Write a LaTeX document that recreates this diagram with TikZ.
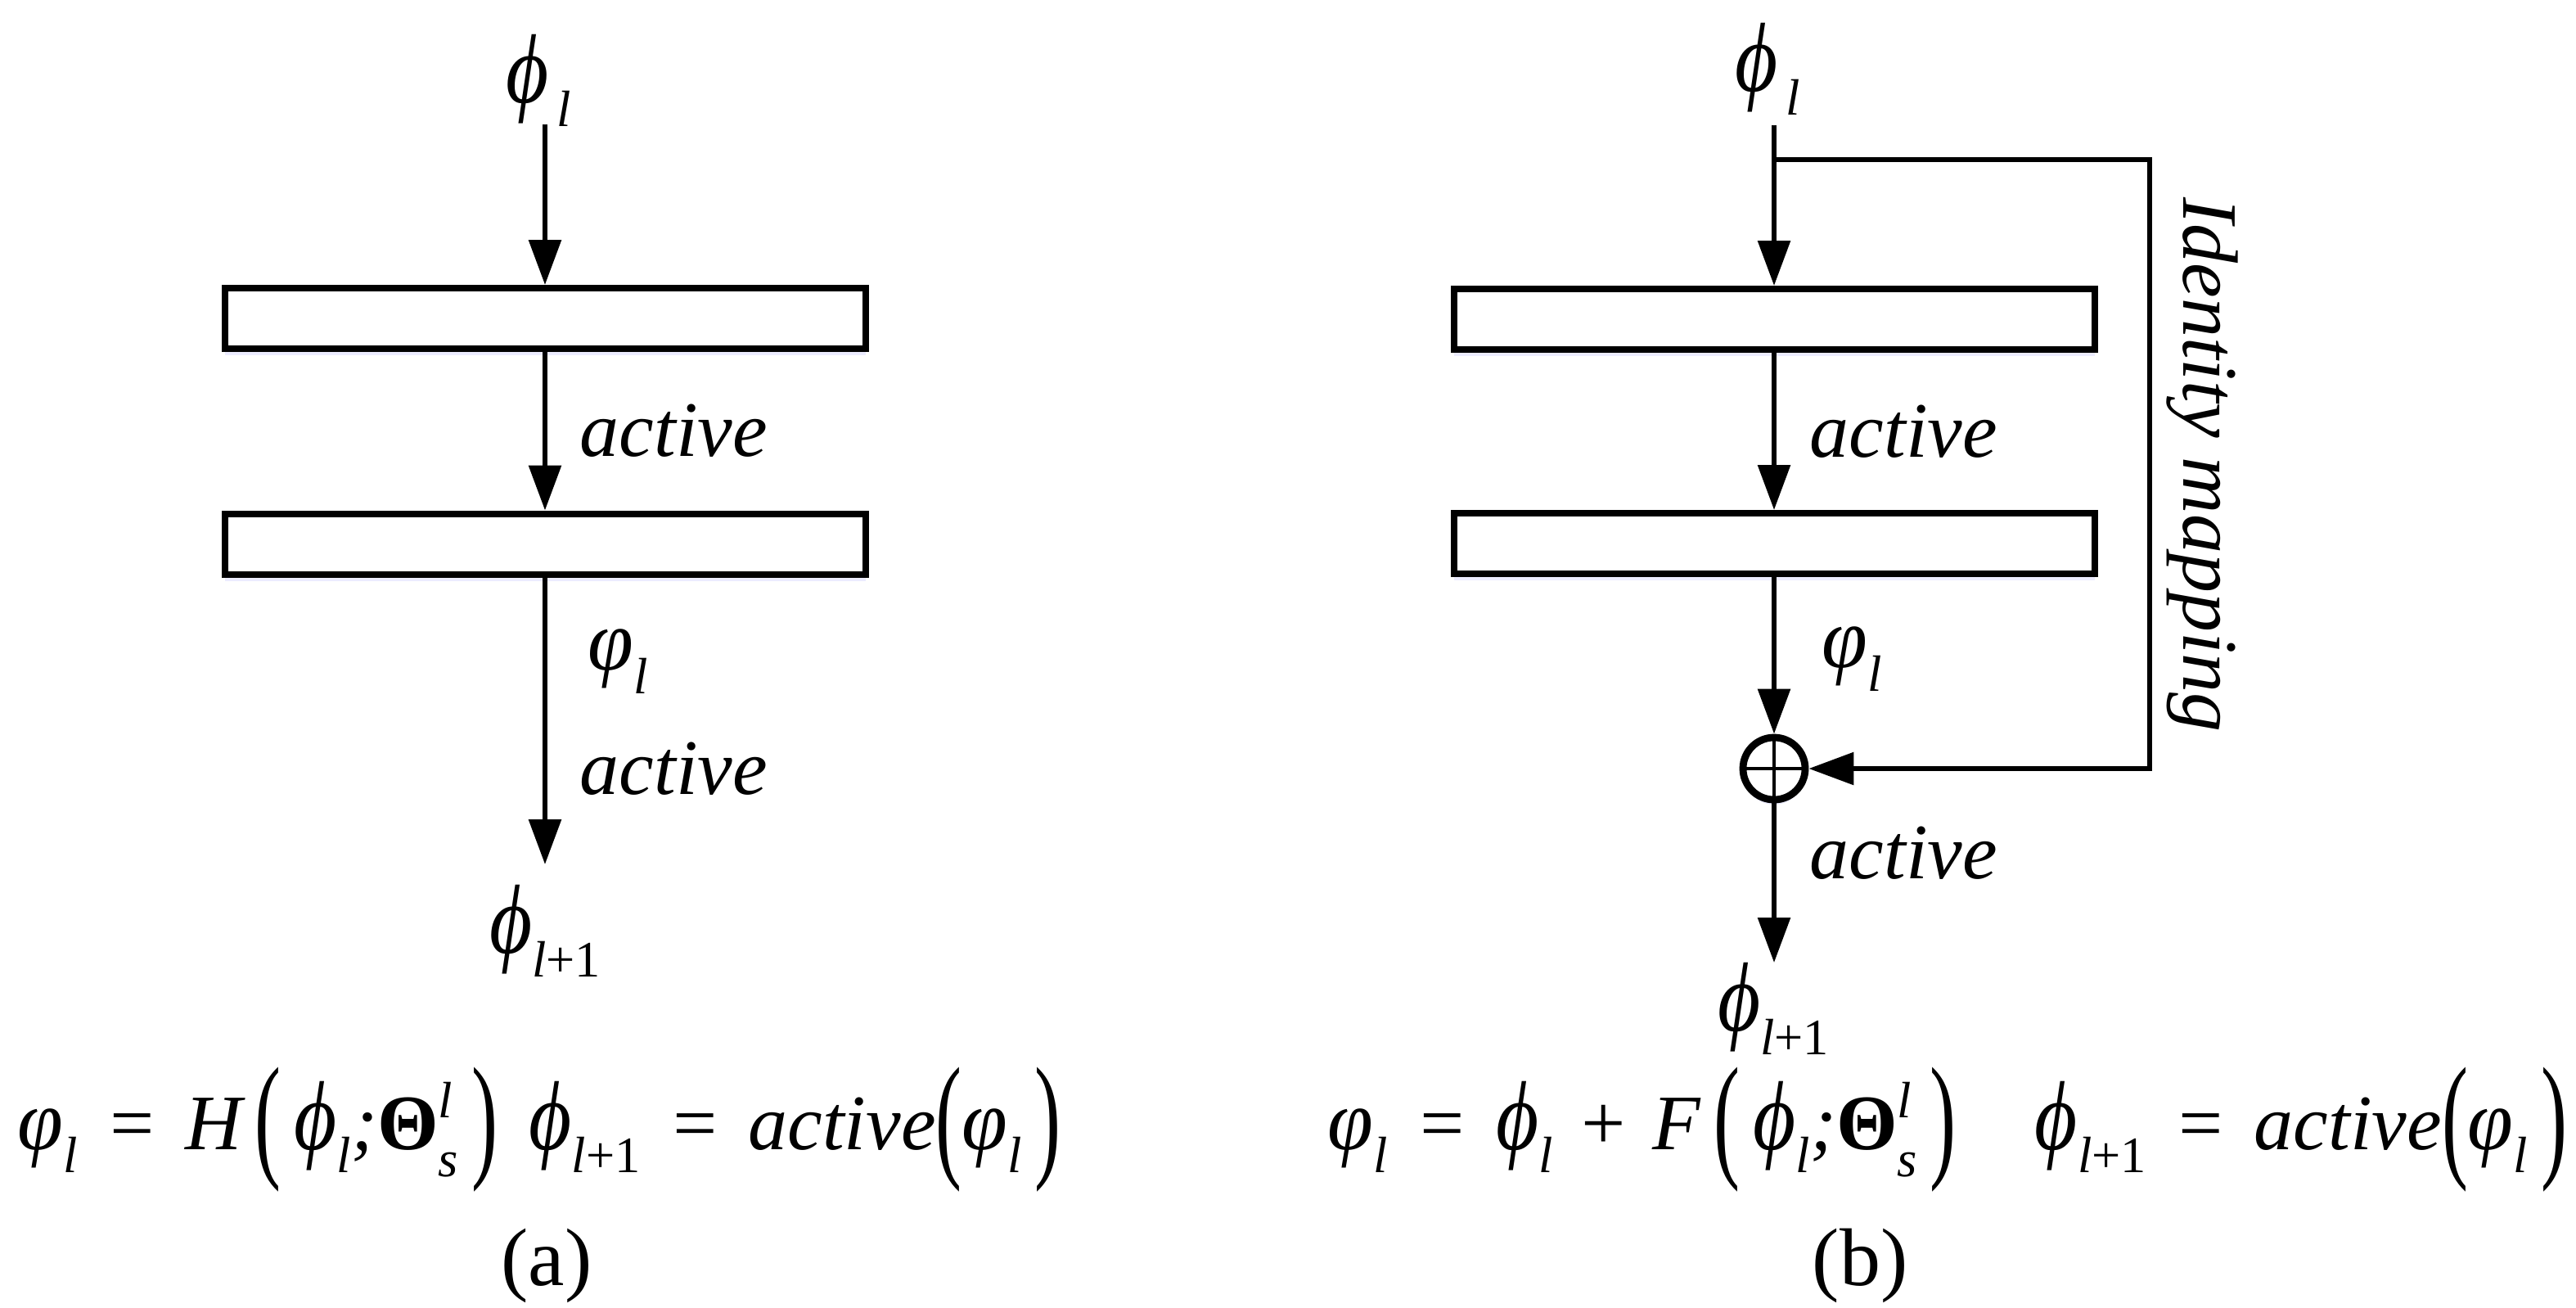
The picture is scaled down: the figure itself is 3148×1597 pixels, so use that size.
\documentclass[tikz,border=0pt]{standalone}
\usepackage{fontspec}
\setmainfont{Liberation Serif}
\usepackage{graphicx}
\usetikzlibrary{arrows.meta,positioning,shadows,calc}
\tikzset{
  layer/.style={draw,line width=2pt,fill=white,minimum width=195.75pt,minimum height=18.5pt,inner sep=0pt,
    drop shadow={shadow xshift=0pt,shadow yshift=-2pt,fill=blue!12,opacity=0.6}},
  conn/.style={line width=1.5pt,-{Triangle[length=13.75pt,width=9.75pt]}},
  lbl/.style={inner sep=0pt,font=\fontsize{24}{28}\selectfont\itshape},
  eqn/.style={inner sep=0pt,font=\fontsize{24}{28}\selectfont\itshape}
}
\newcommand{\bphi}{\scalebox{1.05}[1.25]{ϕ}}
\newcommand{\lphi}{\scalebox{1.05}[1.1]{φ}}
\newcommand{\lsub}[1]{\raisebox{-0.3em}{\scalebox{0.65}{#1}}}
\newcommand{\supsub}[2]{\makebox[0pt][l]{\raisebox{0.4em}{\scalebox{0.65}{#1}}}\raisebox{-0.35em}{\scalebox{0.65}{#2}}}
\newcommand{\bigpar}[1]{\raisebox{-0.17em}{\scalebox{1}[1.75]{\upshape #1}}}
\newcommand{\eq}{\hspace{0.35em}=\hspace{0.35em}}

\begin{document}
\begin{tikzpicture}[x=0.25pt,y=-0.25pt]
  \useasboundingbox (0,0) rectangle (3148,1597);
  % plain block
  \node[layer] (a1) at (666,389) {};
  \node[layer] (a2) at (666,664.5) {};
  \node[lbl] (ain) at (658,98) {\bphi\hspace{0.1em}\lsub{l}};
  \coordinate (ain0) at (666,152);
  \coordinate (aout) at (666,1056);
  \node[lbl] (aoutlbl) at (666,1137) {\bphi\lsub{l\upshape+1}};
  \draw[conn] (ain0) -- (a1);
  \draw[conn] (a1) -- (a2);
  \draw[conn] (a2) -- (aout);
  \node[lbl,anchor=base west] (aact1) at (708,557) {active};
  \node[lbl] (aphi) at (755,808) {\lphi\lsub{l}};
  \node[lbl,anchor=base west] (aact2) at (708,970) {active};
  \node[eqn] (aeq) at (659,1380) {\lphi\lsub{l}\eq\textit{H}\,\bigpar{(}\,\bphi\lsub{l};\textbf{\upshape Θ}\supsub{l}{s}\,\bigpar{)}\hspace{0.4em}\bphi\lsub{l\upshape+1}\eq active\bigpar{(}\lphi\lsub{l}\,\bigpar{)}};
  \node[font=\fontsize{25}{28}\selectfont] (acap) at (668,1546) {(a)};
  % residual block
  \node[layer] (b1) at (2168,390) {};
  \node[layer] (b2) at (2168,664) {};
  \node[draw,circle,line width=2.2pt,minimum size=19pt,inner sep=0pt,fill=white,
    drop shadow={shadow xshift=0pt,shadow yshift=-1.5pt,fill=blue!12,opacity=0.6}] (sum) at (2168,939) {};
  \draw[line width=1.2pt] (sum.west) -- (sum.east) (sum.north) -- (sum.south);
  \node[lbl] (bin) at (2160,84) {\bphi\hspace{0.1em}\lsub{l}};
  \coordinate (bin0) at (2168,153);
  \coordinate (bsplit) at (2168,195);
  \coordinate (bc1) at (2627,195);
  \coordinate (bc2) at (2627,939);
  \coordinate (bout) at (2168,1176);
  \draw[conn] (bin0) -- (b1);
  \draw[conn] (b1) -- (b2);
  \draw[conn] (b2) -- (sum);
  \draw[conn] (sum) -- (bout);
  \draw[conn] (bsplit) -- (bc1) -- (bc2) -- (sum);
  \node[lbl,anchor=base west] (bact1) at (2211,558) {active};
  \node[lbl] (bphi) at (2263,805) {\lphi\lsub{l}};
  \node[lbl,anchor=base west] (bact2) at (2211,1073) {active};
  \node[lbl] (boutlbl) at (2167,1232) {\bphi\lsub{l\upshape+1}};
  \node[lbl,rotate=-90,anchor=base] (idmap) at (2668,568) {Identity mapping};
  \node[eqn] (beq) at (2380,1380) {\lphi\lsub{l}\eq\bphi\lsub{l}\hspace{0.3em}+\hspace{0.3em}\textit{F}\,\bigpar{(}\,\bphi\lsub{l};\textbf{\upshape Θ}\supsub{l}{s}\,\bigpar{)}\hspace{1em}\bphi\lsub{l\upshape+1}\eq active\bigpar{(}\lphi\lsub{l}\,\bigpar{)}};
  \node[font=\fontsize{25}{28}\selectfont] (bcap) at (2273,1546) {(b)};
\end{tikzpicture}
\end{document}
